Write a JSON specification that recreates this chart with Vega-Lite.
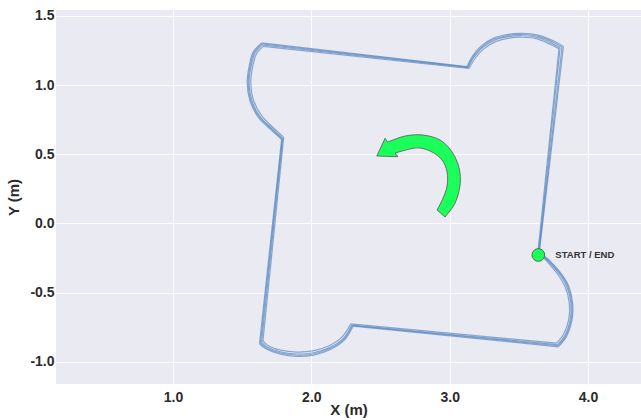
{
  "$schema": "https://vega.github.io/schema/vega-lite/v6.json",
  "width": 585,
  "height": 374,
  "autosize": "none",
  "padding": {"left": 56, "top": 10, "right": 0, "bottom": 36},
  "background": "white",
  "config": {
    "view": {"fill": "#EAEAF2", "stroke": null},
    "axis": {
      "grid": true, "gridColor": "white", "gridWidth": 1,
      "domain": false, "ticks": false,
      "labelFont": "Liberation Sans", "labelFontWeight": "bold", "labelFontSize": 14, "labelColor": "#2b2b2b",
      "titleFont": "Liberation Sans", "titleFontWeight": "bold", "titleFontSize": 15, "titleColor": "#2b2b2b"
    }
  },
  "datasets": {
    "arcs": [
      {"s":"1a","i":1,"x":3.798,"y":1.268},{"s":"1a","i":2,"x":3.762,"y":1.290},{"s":"1a","i":3,"x":3.639,"y":1.343},{"s":"1a","i":4,"x":3.523,"y":1.357},{"s":"1a","i":5,"x":3.422,"y":1.350},{"s":"1a","i":6,"x":3.328,"y":1.326},{"s":"1a","i":7,"x":3.234,"y":1.268},{"s":"1a","i":8,"x":3.176,"y":1.203},{"s":"1a","i":9,"x":3.133,"y":1.126},
      {"s":"1b","i":1,"x":1.644,"y":1.290},{"s":"1b","i":2,"x":1.593,"y":1.232},{"s":"1b","i":3,"x":1.564,"y":1.131},{"s":"1b","i":4,"x":1.550,"y":1.015},{"s":"1b","i":5,"x":1.569,"y":0.892},{"s":"1b","i":6,"x":1.629,"y":0.772},{"s":"1b","i":7,"x":1.714,"y":0.688},{"s":"1b","i":8,"x":1.793,"y":0.615},
      {"s":"1c","i":1,"x":1.640,"y":-0.861},{"s":"1c","i":2,"x":1.678,"y":-0.892},{"s":"1c","i":3,"x":1.774,"y":-0.928},{"s":"1c","i":4,"x":1.894,"y":-0.944},{"s":"1c","i":5,"x":2.014,"y":-0.935},{"s":"1c","i":6,"x":2.135,"y":-0.896},{"s":"1c","i":7,"x":2.231,"y":-0.831},{"s":"1c","i":8,"x":2.292,"y":-0.735},
      {"s":"1d","i":1,"x":3.780,"y":-0.876},{"s":"1d","i":2,"x":3.834,"y":-0.807},{"s":"1d","i":3,"x":3.871,"y":-0.698},{"s":"1d","i":4,"x":3.876,"y":-0.578},{"s":"1d","i":5,"x":3.847,"y":-0.458},{"s":"1d","i":6,"x":3.798,"y":-0.373},{"s":"1d","i":7,"x":3.738,"y":-0.301},{"s":"1d","i":8,"x":3.690,"y":-0.252},{"s":"1d","i":9,"x":3.641,"y":-0.228},

      {"s":"2a","i":1,"x":3.822,"y":1.278},{"s":"2a","i":2,"x":3.780,"y":1.305},{"s":"2a","i":3,"x":3.645,"y":1.360},{"s":"2a","i":4,"x":3.523,"y":1.374},{"s":"2a","i":5,"x":3.415,"y":1.366},{"s":"2a","i":6,"x":3.318,"y":1.340},{"s":"2a","i":7,"x":3.222,"y":1.278},{"s":"2a","i":8,"x":3.165,"y":1.210},{"s":"2a","i":9,"x":3.125,"y":1.134},
      {"s":"2b","i":1,"x":1.640,"y":1.305},{"s":"2b","i":2,"x":1.580,"y":1.240},{"s":"2b","i":3,"x":1.550,"y":1.135},{"s":"2b","i":4,"x":1.536,"y":1.015},{"s":"2b","i":5,"x":1.556,"y":0.886},{"s":"2b","i":6,"x":1.618,"y":0.764},{"s":"2b","i":7,"x":1.705,"y":0.680},{"s":"2b","i":8,"x":1.785,"y":0.607},
      {"s":"2c","i":1,"x":1.625,"y":-0.870},{"s":"2c","i":2,"x":1.668,"y":-0.905},{"s":"2c","i":3,"x":1.770,"y":-0.944},{"s":"2c","i":4,"x":1.894,"y":-0.962},{"s":"2c","i":5,"x":2.018,"y":-0.952},{"s":"2c","i":6,"x":2.142,"y":-0.910},{"s":"2c","i":7,"x":2.240,"y":-0.842},{"s":"2c","i":8,"x":2.302,"y":-0.742},
      {"s":"2d","i":1,"x":3.786,"y":-0.892},{"s":"2d","i":2,"x":3.846,"y":-0.815},{"s":"2d","i":3,"x":3.884,"y":-0.700},{"s":"2d","i":4,"x":3.889,"y":-0.578},{"s":"2d","i":5,"x":3.860,"y":-0.452},{"s":"2d","i":6,"x":3.808,"y":-0.365},{"s":"2d","i":7,"x":3.746,"y":-0.293},{"s":"2d","i":8,"x":3.695,"y":-0.245},{"s":"2d","i":9,"x":3.650,"y":-0.222},

      {"s":"3a","i":1,"x":3.790,"y":1.262},{"s":"3a","i":2,"x":3.755,"y":1.282},{"s":"3a","i":3,"x":3.636,"y":1.333},{"s":"3a","i":4,"x":3.523,"y":1.346},{"s":"3a","i":5,"x":3.428,"y":1.340},{"s":"3a","i":6,"x":3.336,"y":1.316},{"s":"3a","i":7,"x":3.244,"y":1.260},{"s":"3a","i":8,"x":3.186,"y":1.196},{"s":"3a","i":9,"x":3.140,"y":1.120},
      {"s":"3b","i":1,"x":1.652,"y":1.280},{"s":"3b","i":2,"x":1.603,"y":1.225},{"s":"3b","i":3,"x":1.575,"y":1.128},{"s":"3b","i":4,"x":1.562,"y":1.015},{"s":"3b","i":5,"x":1.580,"y":0.896},{"s":"3b","i":6,"x":1.640,"y":0.779},{"s":"3b","i":7,"x":1.722,"y":0.695},{"s":"3b","i":8,"x":1.800,"y":0.622},
      {"s":"3c","i":1,"x":1.650,"y":-0.850},{"s":"3c","i":2,"x":1.686,"y":-0.882},{"s":"3c","i":3,"x":1.778,"y":-0.916},{"s":"3c","i":4,"x":1.894,"y":-0.930},{"s":"3c","i":5,"x":2.010,"y":-0.922},{"s":"3c","i":6,"x":2.128,"y":-0.884},{"s":"3c","i":7,"x":2.222,"y":-0.820},{"s":"3c","i":8,"x":2.284,"y":-0.727},
      {"s":"3d","i":1,"x":3.772,"y":-0.866},{"s":"3d","i":2,"x":3.824,"y":-0.800},{"s":"3d","i":3,"x":3.860,"y":-0.696},{"s":"3d","i":4,"x":3.865,"y":-0.578},{"s":"3d","i":5,"x":3.836,"y":-0.462},{"s":"3d","i":6,"x":3.790,"y":-0.380},{"s":"3d","i":7,"x":3.732,"y":-0.308},{"s":"3d","i":8,"x":3.686,"y":-0.256},{"s":"3d","i":9,"x":3.641,"y":-0.228},

      {"s":"4a","i":1,"x":3.812,"y":1.272},{"s":"4a","i":2,"x":3.772,"y":1.297},{"s":"4a","i":3,"x":3.642,"y":1.352},{"s":"4a","i":4,"x":3.523,"y":1.366},{"s":"4a","i":5,"x":3.418,"y":1.358},{"s":"4a","i":6,"x":3.322,"y":1.333},{"s":"4a","i":7,"x":3.228,"y":1.273},{"s":"4a","i":8,"x":3.170,"y":1.206},{"s":"4a","i":9,"x":3.129,"y":1.130},
      {"s":"4b","i":1,"x":1.642,"y":1.298},{"s":"4b","i":2,"x":1.586,"y":1.236},{"s":"4b","i":3,"x":1.557,"y":1.133},{"s":"4b","i":4,"x":1.543,"y":1.015},{"s":"4b","i":5,"x":1.562,"y":0.889},{"s":"4b","i":6,"x":1.624,"y":0.768},{"s":"4b","i":7,"x":1.710,"y":0.684},{"s":"4b","i":8,"x":1.789,"y":0.611},
      {"s":"4c","i":1,"x":1.632,"y":-0.866},{"s":"4c","i":2,"x":1.673,"y":-0.899},{"s":"4c","i":3,"x":1.772,"y":-0.936},{"s":"4c","i":4,"x":1.894,"y":-0.953},{"s":"4c","i":5,"x":2.016,"y":-0.944},{"s":"4c","i":6,"x":2.138,"y":-0.903},{"s":"4c","i":7,"x":2.236,"y":-0.836},{"s":"4c","i":8,"x":2.297,"y":-0.738},
      {"s":"4d","i":1,"x":3.783,"y":-0.884},{"s":"4d","i":2,"x":3.840,"y":-0.811},{"s":"4d","i":3,"x":3.878,"y":-0.699},{"s":"4d","i":4,"x":3.883,"y":-0.578},{"s":"4d","i":5,"x":3.854,"y":-0.455},{"s":"4d","i":6,"x":3.803,"y":-0.369},{"s":"4d","i":7,"x":3.742,"y":-0.297},{"s":"4d","i":8,"x":3.692,"y":-0.248},{"s":"4d","i":9,"x":3.645,"y":-0.226}
    ],
    "edges": [
      {"s":"1e","i":1,"x":3.641,"y":-0.228},{"s":"1e","i":2,"x":3.798,"y":1.268},
      {"s":"1f","i":1,"x":3.133,"y":1.126},{"s":"1f","i":2,"x":1.644,"y":1.290},
      {"s":"1g","i":1,"x":1.793,"y":0.615},{"s":"1g","i":2,"x":1.640,"y":-0.861},
      {"s":"1h","i":1,"x":2.292,"y":-0.735},{"s":"1h","i":2,"x":3.780,"y":-0.876},
      {"s":"2e","i":1,"x":3.645,"y":-0.230},{"s":"2e","i":2,"x":3.822,"y":1.278},
      {"s":"2f","i":1,"x":3.125,"y":1.134},{"s":"2f","i":2,"x":1.640,"y":1.305},
      {"s":"2g","i":1,"x":1.785,"y":0.607},{"s":"2g","i":2,"x":1.625,"y":-0.870},
      {"s":"2h","i":1,"x":2.302,"y":-0.742},{"s":"2h","i":2,"x":3.786,"y":-0.892},
      {"s":"3e","i":1,"x":3.636,"y":-0.225},{"s":"3e","i":2,"x":3.790,"y":1.262},
      {"s":"3f","i":1,"x":3.140,"y":1.120},{"s":"3f","i":2,"x":1.652,"y":1.280},
      {"s":"3g","i":1,"x":1.800,"y":0.622},{"s":"3g","i":2,"x":1.650,"y":-0.850},
      {"s":"3h","i":1,"x":2.284,"y":-0.727},{"s":"3h","i":2,"x":3.772,"y":-0.866},
      {"s":"4e","i":1,"x":3.643,"y":-0.229},{"s":"4e","i":2,"x":3.812,"y":1.272},
      {"s":"4f","i":1,"x":3.129,"y":1.130},{"s":"4f","i":2,"x":1.642,"y":1.298},
      {"s":"4g","i":1,"x":1.789,"y":0.611},{"s":"4g","i":2,"x":1.632,"y":-0.866},
      {"s":"4h","i":1,"x":2.297,"y":-0.738},{"s":"4h","i":2,"x":3.783,"y":-0.884}
    ],
    "start": [{"x": 3.641, "y": -0.228, "label": "START / END"}],
    "arrow": [{"x": 2.7715, "y": 0.3427}]
  },
  "encoding": {
    "x": {
      "field": "x", "type": "quantitative",
      "scale": {"domain": [0.154, 4.383], "nice": false, "zero": false},
      "axis": {"values": [1, 2, 3, 4], "format": ".1f", "labelPadding": 6, "titlePadding": -2},
      "title": "X (m)"
    },
    "y": {
      "field": "y", "type": "quantitative",
      "scale": {"domain": [-1.161, 1.543], "nice": false, "zero": false},
      "axis": {"values": [-1, -0.5, 0, 0.5, 1, 1.5], "labelExpr": "replace(format(datum.value, '.1f'), '\u2212', '-')", "labelPadding": 2, "titlePadding": 8},
      "title": "Y (m)"
    }
  },
  "layer": [
    {
      "data": {"name": "edges"},
      "mark": {"type": "line", "color": "#5b89c0", "strokeWidth": 1.2, "opacity": 0.7, "clip": true},
      "encoding": {
        "order": {"field": "i", "type": "quantitative"},
        "detail": {"field": "s", "type": "nominal"}
      }
    },
    {
      "data": {"name": "arcs"},
      "mark": {"type": "line", "color": "#5b89c0", "strokeWidth": 1.2, "opacity": 0.7, "interpolate": "catmull-rom", "clip": true},
      "encoding": {
        "order": {"field": "i", "type": "quantitative"},
        "detail": {"field": "s", "type": "nominal"}
      }
    },
    {
      "data": {"name": "arrow"},
      "mark": {
        "type": "point", "filled": true, "size": 4, "opacity": 1,
        "fill": "#1aff5a", "stroke": "#555555", "strokeWidth": 0.8,
        "shape": "M27,41 C28.7,38.7 34.5,32.3 37,27 C39.5,21.7 41.3,14.8 42,9 C42.7,3.2 42.3,-2.5 41,-8 C39.7,-13.5 37.2,-19.3 34,-24 C30.8,-28.7 26.8,-33.2 22,-36 C17.2,-38.8 10.8,-40.3 5,-41 C-0.8,-41.7 -7.1,-41.2 -13,-40 C-18.9,-38.8 -27.6,-35 -30.5,-34 L-33,-37.7 L-41.3,-20 L-20.3,-19.3 L-22.9,-23 C-20.4,-23.7 -12.2,-26.2 -8,-27 C-3.9,-27.8 -1.7,-28.5 2,-28 C5.7,-27.5 10.3,-26 14,-24 C17.7,-22 21.5,-19.3 24,-16 C26.5,-12.7 28.2,-8.3 29,-4 C29.8,0.3 29.7,5.7 29,10 C28.3,14.3 26.7,18 25,22 C23.3,26 20,32 19,34 Z"
      }
    },
    {
      "data": {"name": "start"},
      "mark": {"type": "point", "filled": true, "size": 160, "opacity": 1, "fill": "#1aff5a", "stroke": "#3b7a45", "strokeWidth": 1}
    },
    {
      "data": {"name": "start"},
      "mark": {"type": "text", "align": "left", "baseline": "middle", "dx": 17, "font": "Liberation Sans", "fontWeight": "bold", "fontSize": 9.5, "color": "#333333"},
      "encoding": {"text": {"field": "label"}}
    }
  ]
}
